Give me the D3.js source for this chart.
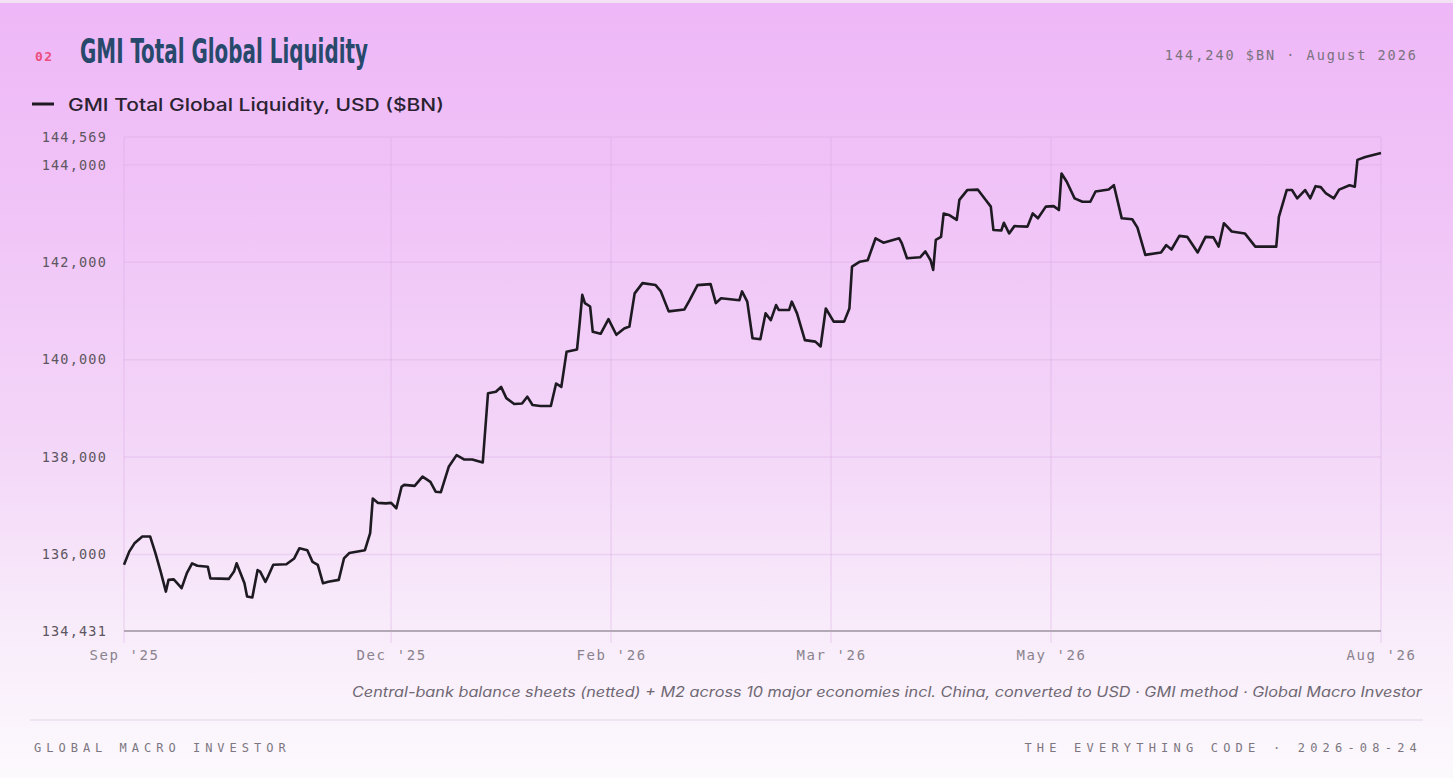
<!DOCTYPE html>
<html>
<head>
<meta charset="utf-8">
<script src="https://cdn.jsdelivr.net/npm/d3@7"></script>
<style>
  body { margin: 0; background: #fbf8fc; }
  svg { display: block; }
</style>
</head>
<body>
<div id="chart"></div>
<script>
// observation index (0..480) and value in $BN
var obs = [0, 2, 4, 7, 10, 12, 14, 16, 17, 19, 22, 24, 26, 28, 32, 33, 40, 42, 43, 46, 47, 49, 51, 52, 54, 55, 57, 62, 65, 67,
  70, 72, 74, 76, 78, 82, 84, 86, 92, 94, 95, 97, 100, 102, 104, 106, 107, 111, 114, 117, 119, 121, 124, 127, 130, 133, 137, 139, 142, 144,
  146, 149, 152, 154, 156, 159, 163, 165, 167, 169, 173, 174, 175, 176, 178, 179, 182, 185, 188, 191, 193, 195, 198, 203, 205, 208, 214, 216, 219, 224,
  226, 228, 235, 236, 238, 240, 243, 245, 247, 249, 250, 254, 255, 257, 260, 264, 266, 268, 271, 275, 277, 278, 281, 284, 287, 290, 296, 297, 299, 304,
  306, 308, 309, 310, 312, 313, 315, 318, 319, 322, 326, 329, 331, 332, 335, 336, 338, 340, 345, 347, 349, 352, 355, 357, 358, 360, 363, 366, 369, 371,
  376, 378, 381, 385, 387, 390, 396, 398, 400, 403, 406, 410, 413, 416, 418, 420, 423, 428, 432, 440, 441, 444, 446, 448, 451, 453, 455, 457, 459, 462,
  464, 468, 470, 471, 474, 480];
var liquidity = [135790, 136060, 136230, 136370, 136370, 136030, 135650, 135240, 135480, 135490, 135310, 135620, 135820, 135770, 135750, 135510, 135500, 135650, 135820, 135410,
  135140, 135120, 135680, 135650, 135440, 135550, 135790, 135800, 135920, 136130, 136090, 135850, 135790, 135410, 135440, 135480, 135920, 136030, 136090, 136440,
  137150, 137060, 137050, 137060, 136950, 137390, 137430, 137410, 137600, 137490, 137290, 137280, 137800, 138040, 137950, 137950, 137890, 139310, 139340, 139440,
  139210, 139090, 139100, 139240, 139070, 139050, 139050, 139510, 139440, 140160, 140210, 140750, 141330, 141160, 141090, 140570, 140530, 140830, 140510, 140640,
  140680, 141360, 141570, 141530, 141400, 140990, 141030, 141220, 141530, 141550, 141160, 141260, 141220, 141400, 141190, 140440, 140420, 140950, 140810, 141120,
  141020, 141020, 141190, 140950, 140400, 140370, 140270, 141050, 140780, 140780, 141050, 141910, 142010, 142040, 142490, 142400, 142490, 142390, 142080, 142100,
  142220, 142040, 141840, 142460, 142520, 143000, 142970, 142870, 143280, 143480, 143490, 143280, 143140, 142660, 142650, 142810, 142590, 142740, 142730, 143000,
  142900, 143140, 143150, 143070, 143820, 143650, 143310, 143240, 143240, 143450, 143490, 143580, 142900, 142880, 142710, 142150, 142200, 142350, 142260, 142540,
  142520, 142200, 142520, 142510, 142320, 142800, 142630, 142590, 142320, 142320, 142930, 143480, 143480, 143310, 143480, 143310, 143560, 143540, 143410, 143310,
  143490, 143580, 143550, 144100, 144160, 144240];

var yDomain = [134431, 144569];
var yTicks = [134431, 136000, 138000, 140000, 142000, 144000, 144569];
var xTickObs = [0, 102, 186, 270, 354, 480];
var xTickLabels = ["Sep '25", "Dec '25", "Feb '26", "Mar '26", "May '26", "Aug '26"];

var W = 1453, H = 778;
var margin = {left: 124, right: 72, top: 137, bottom: 147};

var svg = d3.select("#chart").append("svg")
    .attr("width", W)
    .attr("height", H);

var defs = svg.append("defs");
var grad = defs.append("linearGradient")
    .attr("id", "bg")
    .attr("x1", 0).attr("y1", 0).attr("x2", 0).attr("y2", 1);
grad.append("stop").attr("offset", "0%").attr("stop-color", "#eeb7f7");
grad.append("stop").attr("offset", "25%").attr("stop-color", "#f0c3f7");
grad.append("stop").attr("offset", "55%").attr("stop-color", "#f3d5f8");
grad.append("stop").attr("offset", "80%").attr("stop-color", "#f8ebfa");
grad.append("stop").attr("offset", "100%").attr("stop-color", "#fcf9fd");

svg.append("rect").attr("width", W).attr("height", H).attr("fill", "#f3e1f6");
svg.append("rect").attr("y", 3).attr("width", W).attr("height", H - 3).attr("fill", "url(#bg)");

var x = d3.scaleLinear()
    .domain([0, 480])
    .range([margin.left, W - margin.right]);

var y = d3.scaleLinear()
    .domain(yDomain)
    .range([H - margin.bottom, margin.top]);

var mono = "'DejaVu Sans Mono', 'Liberation Mono', monospace";

// header
svg.append("text")
    .attr("x", 35).attr("y", 61)
    .attr("font-family", mono)
    .attr("font-size", 13)
    .attr("font-weight", "bold")
    .attr("letter-spacing", 1.5)
    .attr("fill", "#ec4d7c")
    .text("02");

svg.append("text")
    .attr("x", 80).attr("y", 63)
    .attr("font-family", "'Liberation Sans Narrow', 'DejaVu Sans Condensed', 'DejaVu Sans', sans-serif")
    .attr("font-stretch", "condensed")
    .attr("font-size", 33)
    .attr("font-weight", "bold")
    .attr("fill", "#27496b")
    .attr("textLength", 288)
    .attr("lengthAdjust", "spacingAndGlyphs")
    .text("GMI Total Global Liquidity");

svg.append("text")
    .attr("x", 1418).attr("y", 60)
    .attr("text-anchor", "end")
    .attr("font-family", mono)
    .attr("font-size", 13.5)
    .attr("letter-spacing", 2)
    .attr("fill", "#7a727e")
    .text("144,240 $BN · August 2026");

// legend
svg.append("line")
    .attr("x1", 32).attr("x2", 54)
    .attr("y1", 104).attr("y2", 104)
    .attr("stroke", "#1e1a22")
    .attr("stroke-width", 3);

svg.append("text")
    .attr("x", 68).attr("y", 111)
    .attr("font-family", "Inter, 'Noto Sans', sans-serif")
    .attr("font-size", 17)
    .attr("font-weight", 500)
    .attr("fill", "#2a2230")
    .attr("textLength", 376)
    .attr("lengthAdjust", "spacingAndGlyphs")
    .text("GMI Total Global Liquidity, USD ($BN)");

// grid
var grid = svg.append("g");
grid.selectAll("line.h")
    .data(yTicks.slice(1))
    .enter().append("line")
    .attr("class", "h")
    .attr("x1", x(0)).attr("x2", x(480))
    .attr("y1", function (d) { return y(d); })
    .attr("y2", function (d) { return y(d); })
    .attr("stroke", "#d7a8df")
    .attr("stroke-opacity", 0.32)
    .attr("stroke-width", 1.5);

grid.selectAll("line.v")
    .data(xTickObs)
    .enter().append("line")
    .attr("class", "v")
    .attr("x1", function (d) { return x(d); })
    .attr("x2", function (d) { return x(d); })
    .attr("y1", y(yDomain[1]))
    .attr("y2", y(yDomain[0]) + 12)
    .attr("stroke", "#d7a8df")
    .attr("stroke-opacity", 0.32)
    .attr("stroke-width", 1.5);

// y axis labels
var yAxis = svg.append("g")
    .attr("transform", "translate(" + (margin.left - 17) + ",0)")
    .call(d3.axisLeft(y)
        .tickValues(yTicks)
        .tickSize(0)
        .tickPadding(0)
        .tickFormat(d3.format(",")));
yAxis.select(".domain").remove();
yAxis.selectAll("text")
    .attr("font-family", mono)
    .attr("font-size", 13.5)
    .attr("letter-spacing", 1.2)
    .attr("fill", "#5d5660");

// x axis
var xAxis = svg.append("g")
    .attr("transform", "translate(0," + (y(yDomain[0]) + 19) + ")")
    .call(d3.axisBottom(x)
        .tickValues(xTickObs)
        .tickSize(0)
        .tickPadding(0)
        .tickFormat(function (d, i) { return xTickLabels[i]; }));
xAxis.select(".domain").remove();
xAxis.selectAll("text")
    .attr("font-family", mono)
    .attr("font-size", 14)
    .attr("letter-spacing", 1.6)
    .attr("fill", "#8a838d");

// baseline
svg.append("line")
    .attr("x1", x(0)).attr("x2", x(480))
    .attr("y1", y(yDomain[0])).attr("y2", y(yDomain[0]))
    .attr("stroke", "#b3a8b6")
    .attr("stroke-width", 2);

// series
var line = d3.line()
    .x(function (d, i) { return x(obs[i]); })
    .y(function (d) { return y(d); });

svg.append("path")
    .datum(liquidity)
    .attr("d", line)
    .attr("fill", "none")
    .attr("stroke", "#1e1a22")
    .attr("stroke-width", 2.6)
    .attr("stroke-linejoin", "round");

// caption
svg.append("text")
    .attr("x", 1422).attr("y", 697)
    .attr("text-anchor", "end")
    .attr("font-family", "Inter, 'Noto Sans', sans-serif")
    .attr("font-style", "italic")
    .attr("font-size", 14)
    .attr("fill", "#6f6873")
    .attr("textLength", 1070)
    .attr("lengthAdjust", "spacingAndGlyphs")
    .text("Central-bank balance sheets (netted) + M2 across 10 major economies incl. China, converted to USD · GMI method · Global Macro Investor");

// footer
svg.append("line")
    .attr("x1", 30).attr("x2", 1423)
    .attr("y1", 720).attr("y2", 720)
    .attr("stroke", "#ebe0ed")
    .attr("stroke-width", 1.5);

svg.append("text")
    .attr("x", 34).attr("y", 752)
    .attr("font-family", mono)
    .attr("font-size", 12)
    .attr("letter-spacing", 5)
    .attr("fill", "#7d7680")
    .text("GLOBAL MACRO INVESTOR");

svg.append("text")
    .attr("x", 1422).attr("y", 752)
    .attr("text-anchor", "end")
    .attr("font-family", mono)
    .attr("font-size", 12)
    .attr("letter-spacing", 5.2)
    .attr("fill", "#7d7680")
    .text("THE EVERYTHING CODE · 2026-08-24");
</script>
</body>
</html>
